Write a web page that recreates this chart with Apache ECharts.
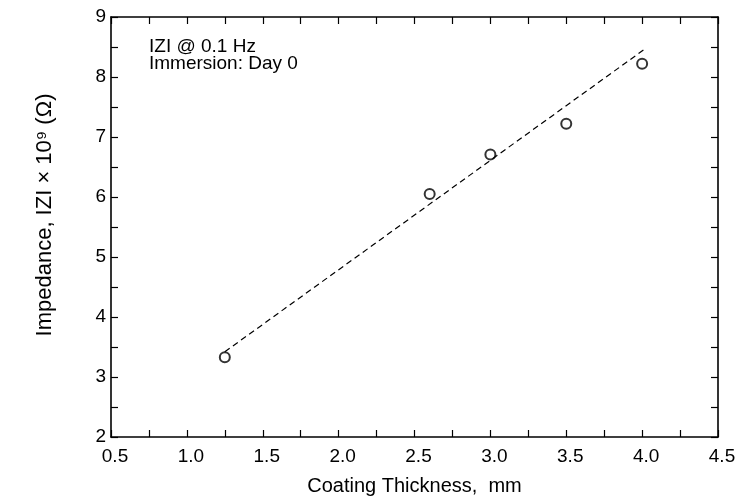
<!DOCTYPE html>
<html>
<head>
<meta charset="utf-8">
<script src="https://cdn.jsdelivr.net/npm/echarts@6/dist/echarts.min.js"></script>
<style>html,body{margin:0;padding:0;background:#fff}#c{width:738px;height:499px}</style>
</head>
<body>
<div id="c"></div>
<script>
const thickness = [1.25, 2.6, 3.0, 3.5, 4.0];
const impedance = [3.33, 6.05, 6.71, 7.22, 8.22];
const fitX = [1.25, 4.02];
const fitY = [3.42, 8.47];
const xTitle = 'Coating Thickness,  mm';
const yTitle = 'Impedance, IZI × 10⁹ (Ω)';
const note = ['IZI @ 0.1 Hz', 'Immersion: Day 0'];

const chart = echarts.init(document.getElementById('c'));
const font = 'Liberation Sans, Arial, sans-serif';
const axisCommon = {
  type: 'value',
  axisLine: {show: true, onZero: false, lineStyle: {color: '#000', width: 1.6}},
  axisTick: {show: true, inside: true, length: 7, lineStyle: {color: '#000', width: 1.2}},
  minorTick: {show: true, splitNumber: 2, length: 7, lineStyle: {color: '#000', width: 1.2}},
  splitLine: {show: false},
  minorSplitLine: {show: false}
};
chart.setOption({
  animation: false,
  grid: {left: 111, right: 20, top: 17, bottom: 62, containLabel: false, outerBoundsMode: 'none'},
  xAxis: [
    Object.assign({}, axisCommon, {
      position: 'bottom', min: 0.5, max: 4.5, interval: 0.5,
      axisLabel: {color: '#000', fontSize: 19, fontFamily: font, margin: 10, padding: [0, 0, 0, 8], formatter: v => v.toFixed(1)},
      name: xTitle, nameLocation: 'middle', nameGap: 39,
      nameTextStyle: {color: '#000', fontSize: 20, fontFamily: font}
    }),
    Object.assign({}, axisCommon, {
      position: 'top', min: 0.5, max: 4.5, interval: 0.5,
      axisLabel: {show: false}
    })
  ],
  yAxis: [
    Object.assign({}, axisCommon, {
      position: 'left', min: 2, max: 9, interval: 1,
      axisLabel: {color: '#000', fontSize: 19, fontFamily: font, margin: 5, padding: [4, 0, 0, 0]},
      name: yTitle, nameLocation: 'middle', nameGap: 55, nameRotate: 90,
      nameTextStyle: {color: '#000', fontSize: 22, fontFamily: font, padding: [0, 0, 0, 24]}
    }),
    Object.assign({}, axisCommon, {
      position: 'right', min: 2, max: 9, interval: 1,
      axisLabel: {show: false}
    })
  ],
  graphic: [{
    type: 'text', left: 149, top: 37,
    style: {text: note.join('\n'), font: '19px ' + font, fill: '#000', lineHeight: 17}
  }],
  series: [
    {
      type: 'line', xAxisIndex: 0, yAxisIndex: 0,
      data: fitX.map((x, i) => [x, fitY[i]]),
      symbol: 'none',
      lineStyle: {color: '#000', width: 1.2, type: [6, 4]}
    },
    {
      type: 'scatter', xAxisIndex: 0, yAxisIndex: 0,
      data: thickness.map((x, i) => [x, impedance[i]]),
      symbol: 'circle', symbolSize: 10,
      itemStyle: {color: '#fff', borderColor: '#000', borderWidth: 2}
    }
  ]
});
</script>
</body>
</html>
